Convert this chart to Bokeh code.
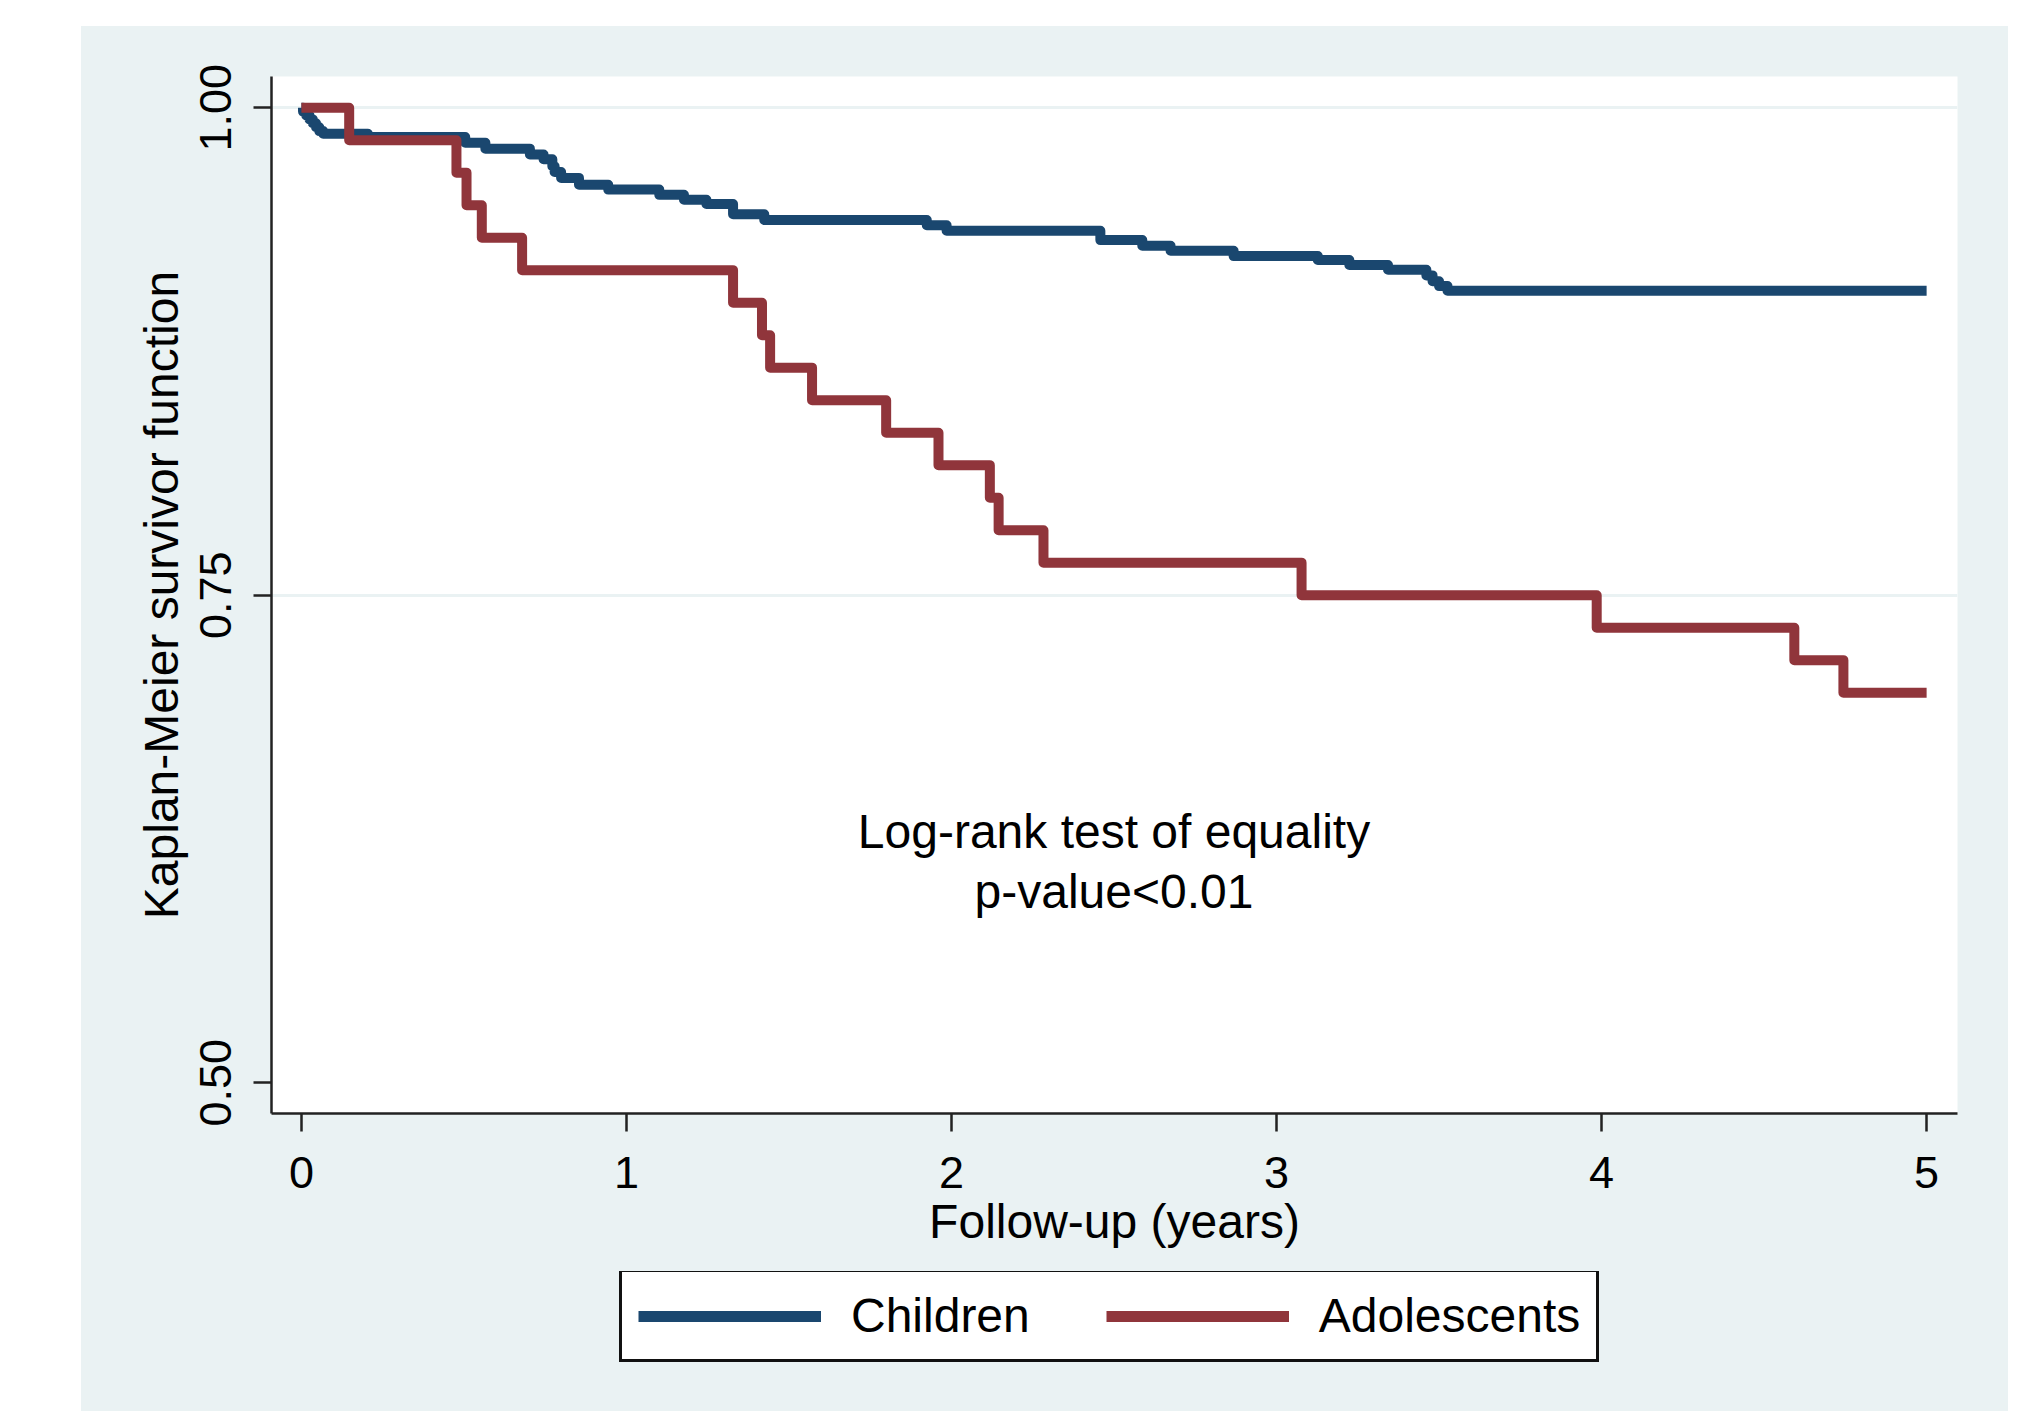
from bokeh.plotting import figure
from bokeh.models import Range1d, FixedTicker, Legend, LegendItem, Spacer, ColumnDataSource
from bokeh.layouts import column, row
from bokeh.embed import file_html
from bokeh.resources import INLINE
from bokeh.core.properties import value

# ---------------- data ----------------
children_time = [0.0, 0.005, 0.015, 0.025, 0.035, 0.045, 0.055, 0.067, 0.204, 0.504, 0.566,
                 0.703, 0.745, 0.772, 0.779, 0.799, 0.854, 0.944, 1.101, 1.177, 1.246, 1.328,
                 1.424, 1.924, 1.985, 2.458, 2.587, 2.674, 2.868, 3.127, 3.224, 3.343, 3.461,
                 3.480, 3.500, 3.526, 5.0]
children_surv = [1.0, 0.998, 0.996, 0.994, 0.992, 0.990, 0.988, 0.9867, 0.985, 0.982, 0.979,
                 0.976, 0.9736, 0.970, 0.967, 0.964, 0.9605, 0.958, 0.9553, 0.9528, 0.9506, 0.9454,
                 0.9424, 0.9397, 0.9369, 0.9321, 0.9292, 0.9266, 0.9239, 0.9219, 0.9193, 0.9169,
                 0.914, 0.911, 0.9085, 0.9061, 0.9061]

adol_time = [0.0, 0.147, 0.477, 0.508, 0.555, 0.679, 1.328, 1.417, 1.442, 1.571, 1.799,
             1.960, 2.118, 2.145, 2.283, 3.077, 3.985, 4.593, 4.744, 5.0]
adol_surv = [1.0, 0.9833, 0.9667, 0.95, 0.9333, 0.9167, 0.90, 0.8833, 0.8667, 0.85, 0.8333,
             0.8167, 0.80, 0.7833, 0.7667, 0.75, 0.7333, 0.7167, 0.70, 0.70]

series_names = ["Children", "Adolescents"]
x_ticks = [0, 1, 2, 3, 4, 5]
y_ticks = [0.50, 0.75, 1.00]
y_tick_labels = ["0.50", "0.75", "1.00"]
grid_values = [0.75, 1.00]
x_label = "Follow-up (years)"
y_label = "Kaplan-Meier survivor function"
annot_lines = ["Log-rank test of equality", "p-value<0.01"]
annot_x = [2.5, 2.5]
annot_y = [0.629, 0.598]

# ---------------- style ----------------
FONT = "Liberation Sans"
BG = "#EAF2F3"
BLUE = "#1A476F"
RED = "#90353B"
AX = "#222222"

TOP_H = 1245
p = figure(width=1927, height=TOP_H,
           x_range=Range1d(-0.092, 5.095), y_range=Range1d(0.4842, 1.016),
           output_backend="svg", toolbar_location=None,
           min_border_left=190, min_border_right=51,
           min_border_top=50, min_border_bottom=TOP_H - 50 - 1037)
p.background_fill_color = "white"
p.border_fill_color = BG
p.outline_line_color = None

p.xgrid.visible = False
p.ygrid.ticker = FixedTicker(ticks=grid_values)
p.ygrid.grid_line_color = BG
p.ygrid.grid_line_width = 3

for ax in (p.xaxis[0], p.yaxis[0]):
    ax.axis_line_color = AX
    ax.axis_line_width = 2.5
    ax.major_tick_line_color = AX
    ax.major_tick_line_width = 2.5
    ax.major_tick_in = 0
    ax.major_tick_out = 18
    ax.minor_tick_line_color = None
    ax.major_label_text_font = FONT
    ax.major_label_text_font_size = "45px"
    ax.major_label_text_color = "black"
    ax.axis_label_text_font = FONT
    ax.axis_label_text_font_size = "48px"
    ax.axis_label_text_font_style = "normal"
    ax.axis_label_text_color = "black"

p.xaxis.ticker = FixedTicker(ticks=x_ticks)
p.xaxis.axis_label = x_label
p.xaxis.major_label_standoff = 25
p.xaxis.axis_label_standoff = 4

p.yaxis.ticker = FixedTicker(ticks=y_ticks)
p.yaxis.major_label_overrides = {t: l for t, l in zip(y_ticks, y_tick_labels)}
p.yaxis.major_label_orientation = "vertical"
p.yaxis.axis_label = y_label
p.yaxis.major_label_standoff = 22
p.yaxis.axis_label_standoff = 10

src_c = ColumnDataSource(dict(t=children_time, s=children_surv))
src_a = ColumnDataSource(dict(t=adol_time, s=adol_surv))
r1 = p.step("t", "s", source=src_c, mode="after", line_color=BLUE, line_width=10,
            line_join="round", line_cap="butt")
r2 = p.step("t", "s", source=src_a, mode="after", line_color=RED, line_width=10,
            line_join="round", line_cap="butt")

p.text(x=annot_x, y=annot_y, text=annot_lines, text_font=value(FONT),
       text_font_size="48px", text_align="center", text_baseline="alphabetic",
       text_color="black")

# ---------------- legend strip (separate figure below the plot) ----------------
LEG_H = 1411 - 26 - TOP_H
q = figure(width=1927, height=LEG_H, x_range=Range1d(0, 1), y_range=Range1d(0, 1),
           output_backend="svg", toolbar_location=None, min_border=0)
q.axis.visible = False
q.grid.visible = False
q.background_fill_color = BG
q.border_fill_color = BG
q.outline_line_color = None
# legend sample lines sit outside the visible range; only their legend glyphs show
l1 = q.line(x=[2, 3], y=[2, 2], line_color=BLUE, line_width=11)
l2 = q.line(x=[2, 3], y=[2, 2], line_color=RED, line_width=11)

legend = Legend(items=[LegendItem(label=series_names[0], renderers=[l1]),
                       LegendItem(label=series_names[1], renderers=[l2])],
                orientation="horizontal", location=(348, 1411 - 1362))
legend.glyph_width = 183
legend.glyph_height = 40
legend.label_standoff = 30
legend.spacing = 76
legend.padding = 16
legend.margin = 0
legend.label_text_font = FONT
legend.label_text_font_size = "48px"
legend.label_text_color = "black"
legend.label_text_baseline = "middle"
legend.border_line_color = "#111111"
legend.border_line_alpha = 1.0
legend.border_line_width = 3
legend.background_fill_color = "white"
legend.background_fill_alpha = 1.0
q.add_layout(legend)

inner = column(p, q, spacing=0, styles={"background-color": BG})
layout = column(Spacer(height=26), row(Spacer(width=81), inner))
open("out.html", "w").write(file_html(layout, INLINE))
